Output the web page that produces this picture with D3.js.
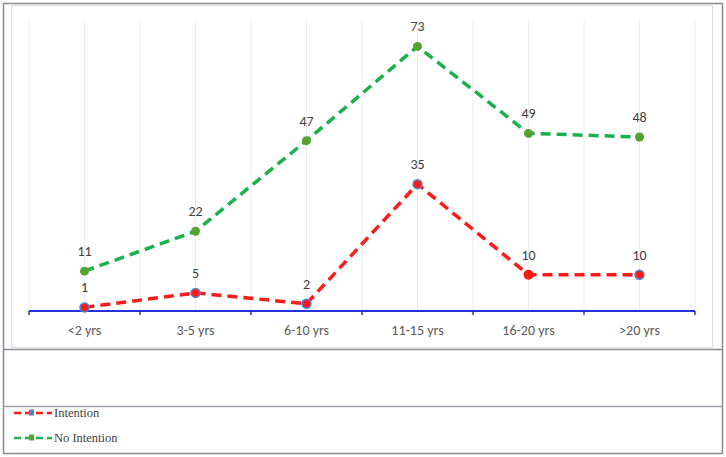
<!DOCTYPE html>
<html>
<head>
<meta charset="utf-8">
<script src="https://cdn.jsdelivr.net/npm/d3@7"></script>
<style>
  body { margin: 0; background: #fff; }
  svg { display: block; }
</style>
</head>
<body>
<div id="chart"></div>
<script>
const categories = ['<2 yrs', '3-5 yrs', '6-10 yrs', '11-15 yrs', '16-20 yrs', '>20 yrs'];
const intention = [1, 5, 2, 35, 10, 10];
const noIntention = [11, 22, 47, 73, 49, 48];
const seriesNames = ['Intention', 'No Intention'];

const width = 726;
const height = 457;

const svg = d3.select('#chart')
  .append('svg')
  .attr('width', width)
  .attr('height', height);

// frame lines
const frame = svg.append('g');
frame.append('rect')
  .attr('x', 3.5).attr('y', 3.5)
  .attr('width', 719).attr('height', 450)
  .attr('fill', 'none').attr('stroke', '#8a8a96').attr('stroke-width', 1.5);
frame.append('rect')
  .attr('x', 11.5).attr('y', 5.5)
  .attr('width', 701).attr('height', 342)
  .attr('fill', 'none').attr('stroke', '#dcdcdc').attr('stroke-width', 1);
frame.append('line')
  .attr('x1', 3).attr('x2', 723).attr('y1', 349.5).attr('y2', 349.5)
  .attr('stroke', '#8a8a96').attr('stroke-width', 1.5);
frame.append('line')
  .attr('x1', 3).attr('x2', 723).attr('y1', 406.5).attr('y2', 406.5)
  .attr('stroke', '#a0a0aa').attr('stroke-width', 1.5);

const usableArea = { left: 29, right: 695, top: 21, bottom: 311 };

const xScale = d3.scaleBand()
  .domain(categories)
  .range([usableArea.left, usableArea.right]);

const yScale = d3.scaleLinear()
  .domain([0, 80])
  .range([usableArea.bottom, usableArea.top]);

const cx = (i) => xScale(categories[i]) + xScale.bandwidth() / 2;

// vertical gridlines at centers and boundaries
const gridX = [];
categories.forEach((c, i) => {
  gridX.push(xScale(c));
  gridX.push(cx(i));
});
gridX.push(usableArea.right);
svg.append('g')
  .selectAll('line')
  .data(gridX)
  .join('line')
  .attr('x1', (d) => d).attr('x2', (d) => d)
  .attr('y1', usableArea.top).attr('y2', usableArea.bottom)
  .attr('stroke', '#ececf0').attr('stroke-width', 1);

// x axis
const xAxis = svg.append('g')
  .attr('transform', `translate(0, ${usableArea.bottom})`)
  .call(d3.axisBottom(xScale).tickSize(0).tickPadding(10));
xAxis.select('.domain').remove();
xAxis.selectAll('text')
  .attr('font-family', 'Carlito, "Open Sans", sans-serif')
  .attr('font-size', 14)
  .attr('fill', '#595959')
  .attr('dy', '1em');
xAxis.append('line')
  .attr('x1', usableArea.left).attr('x2', usableArea.right)
  .attr('y1', 0).attr('y2', 0)
  .attr('stroke', '#2233dd').attr('stroke-width', 2);
xAxis.selectAll('.bound')
  .data(gridX.filter((d, i) => i % 2 === 0 || d === usableArea.right))
  .join('line')
  .attr('class', 'bound')
  .attr('x1', (d) => d).attr('x2', (d) => d)
  .attr('y1', 0).attr('y2', 4)
  .attr('stroke', '#2233dd').attr('stroke-width', 1.5);

const line = d3.line()
  .x((d, i) => cx(i))
  .y((d) => yScale(d));

const series = [
  { name: seriesNames[1], values: noIntention, stroke: '#1ab04c', fill: '#55a22f', ring: null },
  { name: seriesNames[0], values: intention, stroke: '#ff1a1a', fill: '#ff1a1a', ring: '#4a86d8' },
];

series.forEach((s) => {
  const g = svg.append('g');
  g.append('path')
    .datum(s.values)
    .attr('d', line)
    .attr('fill', 'none')
    .attr('stroke', s.stroke)
    .attr('stroke-width', 3.5)
    .attr('stroke-dasharray', '10,6');

  g.selectAll('circle')
    .data(s.values)
    .join('circle')
    .attr('cx', (d, i) => cx(i))
    .attr('cy', (d) => yScale(d))
    .attr('r', (d, i) => (s.ring && i === 4 ? 5 : 4.5))
    .attr('fill', s.fill)
    .attr('stroke', (d, i) => (s.ring && i !== 4 ? s.ring : 'none'))
    .attr('stroke-width', 1.5);

  g.selectAll('text')
    .data(s.values)
    .join('text')
    .attr('x', (d, i) => cx(i))
    .attr('y', (d) => yScale(d) - 15)
    .attr('text-anchor', 'middle')
    .attr('font-family', 'Carlito, "Open Sans", sans-serif')
    .attr('font-size', 14)
    .attr('fill', '#404040')
    .text((d) => d);
});

// legend
const legend = svg.append('g');
const legendItems = [
  { name: seriesNames[0], stroke: '#ff1a1a', fill: '#ff1a1a', ring: '#4a86d8', y: 413 },
  { name: seriesNames[1], stroke: '#1ab04c', fill: '#55a22f', ring: null, y: 438 },
];
legendItems.forEach((it) => {
  legend.append('line')
    .attr('x1', 14).attr('x2', 52)
    .attr('y1', it.y).attr('y2', it.y)
    .attr('stroke', it.stroke).attr('stroke-width', 2.5)
    .attr('stroke-dasharray', '7,4');
  legend.append('rect')
    .attr('x', 29).attr('y', it.y - 3.5)
    .attr('width', 5).attr('height', 6)
    .attr('fill', it.ring || it.fill);
  legend.append('text')
    .attr('x', 54).attr('y', it.y + 4)
    .attr('font-family', '"Liberation Serif", "Times New Roman", serif')
    .attr('font-size', 12.5)
    .attr('fill', '#404040')
    .text(it.name);
});
</script>
</body>
</html>
